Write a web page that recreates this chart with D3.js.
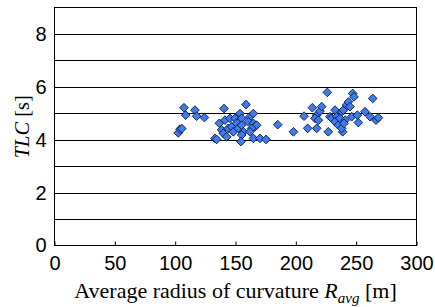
<!DOCTYPE html>
<html>
<head>
<meta charset="utf-8">
<script src="https://cdn.jsdelivr.net/npm/d3@7"></script>
<style>
  body { margin: 0; background: #fff; }
  svg { display: block; }
</style>
</head>
<body>
<svg id="chart"></svg>
<script>
// valores: radio medio [m] y TLC [s]
const radios = [
  102.6, 104, 105.5, 107.3, 108.7, 116.4, 117.8, 124.2, 133, 134.4,
  140.5, 136.6, 141.3, 138.5, 139.9, 142.7, 145.4, 144, 146.8, 148.2,
  149.6, 150.9, 153.7, 155.1, 152.3, 155.1, 156.5, 155.1, 154.5, 158.7,
  162, 164.8, 160.6, 164.8, 166.1, 167.5, 163.4, 162, 164.8, 170.3,
  175.3, 185,
  198, 206.8, 209.8, 213.7, 217.3, 215.9, 220, 221.4, 217.3, 218.7,
  226.1, 226.9, 228.3, 229.7, 232.5, 233.9, 232.5, 235.2, 236.6, 238,
  239.4, 238.8, 238, 240.8, 239.9, 242.1, 243.5, 244.9, 247.1, 248.2,
  246.3, 251, 251.8, 257.3, 261.5, 263.7, 266.4, 268.4
];
const tlc = [
  4.26, 4.40, 4.42, 5.21, 4.93, 5.12, 4.89, 4.84, 4.05, 4.01,
  5.18, 4.62, 4.74, 4.37, 4.24, 4.11, 4.81, 4.43, 4.49, 4.30,
  4.81, 4.62, 4.99, 4.81, 4.43, 4.55, 4.30, 4.18, 3.93, 5.33,
  4.87, 4.99, 4.68, 4.62, 4.49, 4.55, 4.43, 4.30, 4.05, 4.05,
  4.01, 4.57,
  4.30, 4.89, 4.43, 5.21, 4.93, 4.81, 5.08, 5.25, 4.43, 4.74,
  5.79, 4.30, 4.87, 4.81, 5.12, 4.87, 4.68, 4.55, 4.81, 5.06,
  5.12, 4.30, 4.43, 4.74, 4.62, 5.31, 5.43, 5.25, 5.75, 5.62,
  4.87, 4.93, 4.65, 5.06, 4.87, 5.56, 4.74, 4.83
];
const xTicks = [0, 50, 100, 150, 200, 250, 300];
const yTicks = [0, 2, 4, 6, 8];
const yGrid = [1, 2, 3, 4, 5, 6, 7, 8];

const datos = radios.map((r, i) => ({ r: r, t: tlc[i] }));

const W = 435, H = 307;
const svg = d3.select("#chart").attr("width", W).attr("height", H);

const x = d3.scaleLinear().domain([0, 300]).range([54.5, 416.5]);
const y = d3.scaleLinear().domain([0, 9]).range([245.5, 7.5]);

// lineas de grilla
svg.append("g")
  .selectAll("line")
  .data(yGrid)
  .join("line")
  .attr("x1", x(0)).attr("x2", x(300))
  .attr("y1", d => Math.round(y(d)) + 0.5)
  .attr("y2", d => Math.round(y(d)) + 0.5)
  .attr("stroke", "#000")
  .attr("stroke-width", 1);

// marco
svg.append("rect")
  .attr("x", x(0)).attr("y", y(9))
  .attr("width", x(300) - x(0)).attr("height", y(0) - y(9))
  .attr("fill", "none")
  .attr("stroke", "#000")
  .attr("stroke-width", 1);

// eje x
const ejeX = svg.append("g")
  .attr("transform", `translate(0, ${y(0)})`)
  .call(d3.axisBottom(x).tickValues(xTicks).tickSize(-4).tickPadding(10).tickSizeOuter(0));
ejeX.select(".domain").remove();
ejeX.selectAll("line").attr("stroke", "#000");
ejeX.selectAll("text")
  .attr("fill", "#000")
  .style("font-family", "'Liberation Sans', Arial, sans-serif")
  .style("font-size", "20px");

// eje y
const ejeY = svg.append("g")
  .attr("transform", `translate(${x(0)}, 0)`)
  .call(d3.axisLeft(y).tickValues(yTicks).tickSize(0).tickPadding(8));
ejeY.select(".domain").remove();
ejeY.selectAll("text")
  .attr("fill", "#000")
  .style("font-family", "'Liberation Sans', Arial, sans-serif")
  .style("font-size", "20px");

// puntos
const diamante = d3.symbol().type(d3.symbolSquare).size(38);
svg.append("g")
  .selectAll("path")
  .data(datos)
  .join("path")
  .attr("d", diamante)
  .attr("transform", d => `translate(${x(d.r)}, ${y(d.t)}) rotate(45)`)
  .attr("fill", "#3d7bef")
  .attr("stroke", "#0b1030")
  .attr("stroke-width", 0.8);

// titulo eje x
const tituloX = svg.append("text")
  .attr("x", 235.5)
  .attr("y", 297.5)
  .attr("text-anchor", "middle")
  .attr("fill", "#000")
  .style("font-family", "'Liberation Serif', 'Times New Roman', serif")
  .style("font-size", "22px");
tituloX.append("tspan").text("Average radius of curvature ");
tituloX.append("tspan").style("font-style", "italic").text("R");
tituloX.append("tspan").style("font-style", "italic").style("font-size", "15px")
  .attr("dy", 5).text("avg");
tituloX.append("tspan").attr("dy", -5).text(" [m]");

// titulo eje y
const tituloY = svg.append("text")
  .attr("transform", "translate(28.5, 126.7) rotate(-90)")
  .attr("text-anchor", "middle")
  .attr("fill", "#000")
  .style("font-family", "'Liberation Serif', 'Times New Roman', serif")
  .style("font-size", "20.5px");
tituloY.append("tspan").style("font-style", "italic").text("TLC");
tituloY.append("tspan").text(" [s]");
</script>
</body>
</html>
